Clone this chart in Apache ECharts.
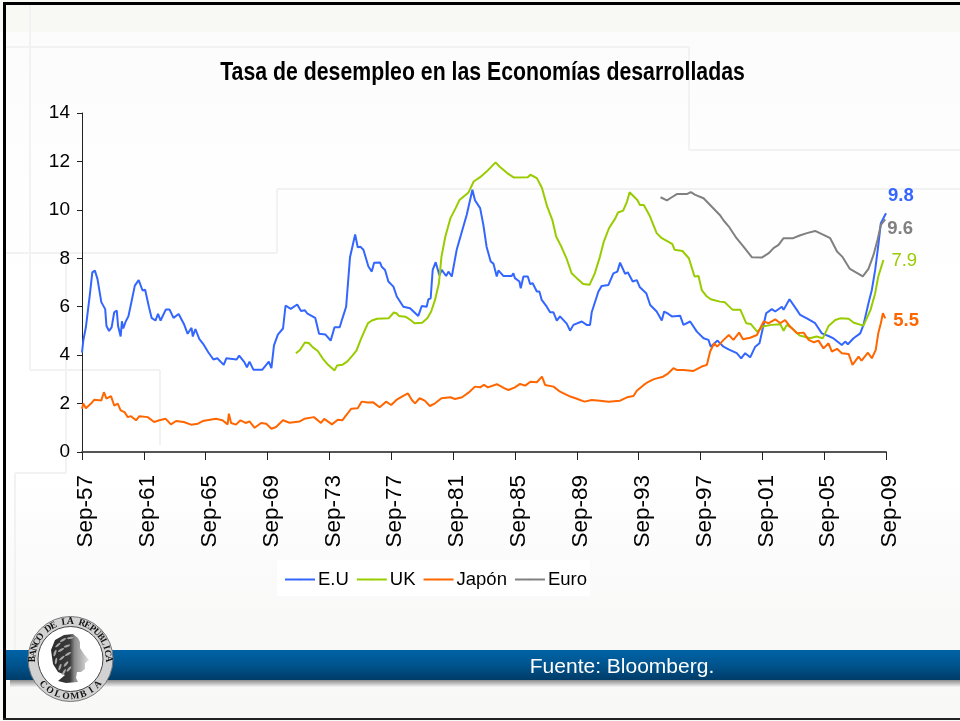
<!DOCTYPE html>
<html><head><meta charset="utf-8">
<style>html,body{margin:0;padding:0;background:#fff}#c{width:960px;height:721px}</style>
<script src="https://cdn.jsdelivr.net/npm/echarts@6/dist/echarts.min.js"></script>
</head><body><div id="c"></div>
<script>
// x = months since Sep-57
const tickLabels = ['Sep-57','Sep-61','Sep-65','Sep-69','Sep-73','Sep-77','Sep-81','Sep-85','Sep-89','Sep-93','Sep-97','Sep-01','Sep-05','Sep-09'];
const title = 'Tasa de desempleo en las Economías desarrolladas';
const source = 'Fuente: Bloomberg.';
const seriesNames = ['E.U','UK','Japón','Euro'];
const lastLabels = ['9.8','7.9','5.5','9.6'];
const usData = [[0,4.1],[1,4.6],[3,5.15],[6,6.46],[8,7.42],[10,7.49],[12,7.15],[15,6.19],[18,5.9],[19,5.2],[21,5.0],[23,5.15],[25,5.77],[27,5.84],[28,5.2],[30,4.77],[31,5.4],[32,5.1],[34,5.4],[36,5.6],[38,6.1],[41,6.87],[44,7.1],[47,6.67],[49,6.7],[52,5.98],[54,5.54],[57,5.43],[59,5.7],[61,5.43],[65,5.88],[68,5.88],[71,5.54],[75,5.7],[79,5.3],[82,4.88],[85,5.13],[86,4.77],[88,5.08],[91,4.67],[94,4.47],[98,4.12],[102,3.82],[105,3.87],[110,3.6],[112,3.87],[120,3.82],[122,3.98],[126,3.71],[128,3.5],[130,3.73],[133,3.4],[140,3.4],[145,3.73],[147,3.46],[149,4.4],[152,4.85],[156,5.1],[158,6.05],[162,5.91],[167,6.09],[170,5.82],[173,5.85],[175,5.71],[181,5.54],[184,4.88],[189,4.85],[193,4.6],[196,5.15],[200,5.15],[202,5.5],[205,6.0],[208,8.04],[212,8.98],[214,8.45],[216,8.48],[218.4,8.35],[222.3,7.66],[224.9,7.45],[226.7,7.82],[231.3,7.83],[232.6,7.65],[235.2,7.52],[237.8,7.04],[241.7,6.83],[244.3,6.42],[249.4,6.0],[254.6,5.94],[261,5.62],[263.7,6.03],[267.5,6.0],[268.8,6.3],[270.6,6.35],[272.2,7.52],[274.5,7.84],[277.4,7.3],[279.2,7.52],[282.6,7.27],[284.4,7.45],[287,7.25],[290.8,8.35],[298.6,9.8],[303,10.83],[305,10.4],[309,10.07],[311.5,9.38],[314,8.48],[317.2,7.87],[319.3,7.78],[321.9,7.25],[323.2,7.5],[327,7.27],[333.5,7.27],[334.8,7.38],[336,7.18],[339.5,7.04],[340.5,6.76],[342.6,7.25],[346,7.25],[347.8,6.94],[349.8,6.97],[353,6.63],[355,6.63],[356.8,6.28],[360.7,6.0],[363.3,5.77],[365.9,5.77],[368.5,5.43],[371,5.6],[376.2,5.3],[378.8,5.01],[381.4,5.25],[387.9,5.39],[391.7,5.25],[394.3,5.25],[395.6,5.77],[400.8,6.63],[403.4,6.86],[408.6,6.9],[412.4,7.38],[415.5,7.45],[417.6,7.82],[421.5,7.36],[423.6,7.42],[427.4,7.04],[430.6,7.1],[433,6.8],[437.9,6.56],[441,6.07],[446,5.8],[450,5.43],[451.8,5.8],[455.2,5.7],[457.8,5.6],[464.2,5.63],[466.8,5.25],[472,5.39],[477.2,4.97],[482.4,4.7],[486.2,4.63],[488,4.35],[493.2,4.6],[497.9,4.35],[501.8,4.24],[508.2,4.08],[511.6,3.87],[514.7,4.08],[518.6,3.91],[522.5,4.35],[525.8,4.49],[531,5.73],[535.4,5.9],[538,5.8],[543.2,6.0],[544.5,5.87],[549.1,6.31],[554.8,5.87],[557.4,5.66],[562.6,5.52],[569,5.32],[574.2,4.9],[579.4,4.79],[583.3,4.69],[589.7,4.42],[592.3,4.56],[594.4,4.45],[598.8,4.7],[604,4.9],[606.5,5.25],[610.4,6.14],[613,6.69],[615.6,7.52],[618.2,8.62],[620,9.45],[624,9.86]];
const ukData = [[166,4.08],[169,4.2],[173,4.52],[176,4.5],[179,4.33],[183,4.17],[187,3.85],[191,3.6],[196,3.37],[198,3.57],[202,3.6],[206,3.74],[210,3.99],[213,4.19],[216,4.6],[219,4.97],[222,5.32],[225,5.43],[229,5.5],[238,5.52],[242,5.76],[244,5.73],[246,5.62],[251,5.59],[255,5.45],[258,5.32],[264,5.34],[268,5.52],[271,5.8],[274,6.28],[277,6.97],[279,8.07],[282,8.9],[286,9.66],[290,10.07],[293,10.41],[300,10.72],[304,11.17],[309,11.35],[314,11.58],[321,11.96],[324,11.79],[330,11.52],[335,11.34],[346,11.35],[348,11.45],[353,11.31],[357,10.9],[361,10.14],[365,9.59],[368,8.9],[372,8.48],[376,8.0],[380,7.38],[384,7.18],[389,6.94],[394,6.91],[398,7.38],[402,8.07],[405,8.69],[409,9.24],[414,9.66],[416,9.89],[420,9.97],[423,10.34],[425,10.73],[431,10.41],[433,10.2],[436,10.2],[440.5,9.77],[446,9.04],[450,8.83],[458,8.6],[460,8.35],[466,8.3],[471,8.0],[475.4,7.25],[478.5,7.27],[481,6.69],[485,6.42],[488,6.31],[495,6.21],[499,6.18],[505,5.87],[511,5.87],[515.5,5.32],[519,5.29],[524,4.97],[528.4,5.18],[535,5.25],[542,5.28],[544.5,5.01],[547,5.25],[551,5.11],[557,4.81],[565,4.7],[570,4.77],[575,4.7],[579.4,5.2],[584.6,5.45],[588.4,5.52],[595,5.5],[599,5.34],[606.5,5.22],[612,5.87],[615.6,6.56],[618,7.25],[622,7.93]];
const jpData = [[0,1.79],[1,2.0],[3,1.81],[7,2.0],[9.6,2.16],[15,2.13],[17,2.47],[19,2.2],[22.5,2.31],[25,1.92],[27.7,2.0],[30,1.72],[33,1.65],[35.5,1.44],[38,1.48],[42,1.31],[44.5,1.48],[51,1.44],[56,1.24],[60,1.31],[65,1.37],[69,1.14],[73,1.28],[79,1.24],[84.6,1.13],[90,1.17],[93.7,1.28],[104,1.37],[109,1.31],[113,1.14],[114,1.58],[115.7,1.2],[119.5,1.13],[123,1.31],[127,1.2],[130,1.26],[134,1.0],[139,1.2],[143,1.17],[147,0.96],[150.6,1.03],[156,1.31],[161,1.21],[169,1.26],[172.6,1.37],[180,1.44],[185.5,1.2],[188,1.37],[194,1.14],[198.5,1.33],[202,1.31],[206,1.58],[209,1.79],[214,1.81],[217,2.08],[222,2.04],[226,2.05],[231,1.85],[236,2.08],[240,1.94],[244,2.15],[249,2.31],[253,2.42],[256,2.15],[258.5,2.01],[262,2.22],[266,2.12],[270,1.9],[274,2.01],[279,2.22],[286,2.26],[289.5,2.19],[295,2.26],[300,2.45],[305,2.7],[309,2.67],[312,2.77],[315,2.67],[322,2.8],[328,2.63],[331,2.56],[336,2.67],[340,2.81],[344,2.74],[348,2.9],[353,2.88],[357,3.11],[359.4,2.77],[366,2.7],[371,2.49],[379,2.29],[383,2.22],[390,2.08],[395.6,2.15],[402,2.12],[408.6,2.08],[417.6,2.12],[423,2.26],[428,2.31],[430.6,2.53],[436,2.77],[439.6,2.9],[443.5,3.0],[446,3.04],[451,3.11],[455,3.25],[459,3.46],[461.7,3.39],[467,3.39],[474.6,3.35],[481,3.53],[485,3.6],[487.5,4.15],[490.6,4.49],[493,4.35],[498,4.63],[502,4.83],[505.6,4.63],[510,4.93],[513,4.66],[518.6,4.72],[523.8,4.83],[529,5.39],[533,5.32],[538,5.48],[542,5.32],[545.7,5.45],[549.6,5.18],[555,4.9],[560,4.93],[564,4.63],[568,4.53],[571.6,4.6],[575.5,4.28],[579.4,4.49],[582,4.15],[586,4.26],[589.7,4.08],[595,4.05],[598,3.6],[602.7,3.94],[605,3.77],[610,4.1],[613,3.87],[616,4.21],[618,4.9],[620,5.32],[621.6,5.73],[623.4,5.52]];
const euroData = [[449,10.52],[454,10.39],[456.5,10.48],[461.7,10.65],[469.4,10.65],[472.5,10.73],[476,10.62],[482.4,10.48],[487.5,10.2],[495,9.79],[498,9.56],[502,9.31],[508,8.83],[513.4,8.48],[520,8.04],[527.6,8.03],[533,8.21],[536.7,8.42],[540.6,8.55],[544.5,8.83],[552,8.83],[557,8.94],[562.6,9.04],[569,9.13],[575.5,8.97],[580.7,8.83],[586,8.28],[590,8.07],[596,7.56],[601,7.41],[606,7.25],[610.4,7.56],[614.3,8.14],[617.4,8.76],[620,9.38],[623.4,9.61]];
const yTicks = [0,14,2];

const colors = ['#3366ff','#99cc00','#ff6600','#808080'];
const sans = '"Liberation Sans",Arial,sans-serif';

const ln = (x1,y1,x2,y2)=>({type:'line',silent:true,z:-10,shape:{x1,y1,x2,y2},style:{stroke:'#f2f2f2',lineWidth:2}});
const grad = (stops)=>({type:'linear',x:0,y:0,x2:0,y2:1,colorStops:stops});
const bg = [
 {type:'rect',z:-20,silent:true,shape:{x:0,y:0,width:960,height:721},style:{fill:grad([{offset:0,color:'#fbfbfb'},{offset:.26,color:'#fefefe'},{offset:.45,color:'#ffffff'},{offset:.66,color:'#ffffff'},{offset:.8,color:'#fafafa'},{offset:1,color:'#f8f8f6'}])}},
 {type:'rect',z:-19,silent:true,shape:{x:0,y:0,width:960,height:32},style:{fill:'#f8f8f4'}},
 ln(5,47,689,47),ln(689,47,689,150),ln(689,150,960,150),
 ln(30,5,30,370),ln(30,370,160,370),ln(160,370,160,445),
 ln(5,253,277,253),ln(277,253,277,189),ln(277,189,960,189),
 ln(66,250,66,473),ln(15,473,66,473),ln(15,473,15,650),
 {type:'rect',z:-5,silent:true,shape:{x:277,y:560,width:313,height:36},style:{fill:'#ffffff'}},
 // footer band
 {type:'rect',z:1,silent:true,shape:{x:10,y:680,width:950,height:7},style:{fill:grad([{offset:0,color:'#8c8c8c'},{offset:1,color:'#f4f4f4'}])}},
 {type:'rect',z:2,silent:true,shape:{x:5,y:650,width:955,height:30},style:{fill:grad([{offset:0,color:'#0063a6'},{offset:.5,color:'#00548e'},{offset:1,color:'#003c68'}])}},
 {type:'text',z:3,silent:true,style:{x:622,y:667,text:source,fill:'#fff',font:'21px '+sans,textAlign:'center',textVerticalAlign:'middle'}},
 // chart title, condensed like the reference
 {type:'text',z:4,silent:true,x:482.5,y:73,scaleX:.851,style:{text:title,fill:'#000',font:'bold 25px '+sans,textAlign:'center',textVerticalAlign:'middle'}},
 // page frame
 {type:'rect',z:30,silent:true,shape:{x:3,y:2,width:3,height:717},style:{fill:'#000'}},
 {type:'rect',z:30,silent:true,shape:{x:3,y:2,width:957,height:3},style:{fill:'#000'}},
 {type:'rect',z:30,silent:true,shape:{x:3,y:718,width:957,height:2},style:{fill:'#222'}},
];
// seal
const sx=70.5, sy=659;
const leaves = [[58,645,-40],[63,640,-30],[70,638,-10],[55,653,-70],[61,650,-30],[67,646,-20],[56,661,-80],[62,658,-40],[68,654,-30],[60,667,-70],[66,664,-50],[64,672,-60],[69,669,-50]];
const seal = [
 {type:'circle',z:10,silent:true,shape:{cx:sx,cy:sy,r:42.5},style:{fill:'#d2d2d2',stroke:'#777',lineWidth:1}},
 {type:'circle',z:11,silent:true,shape:{cx:sx,cy:sy,r:32.5},style:{fill:'#fff',stroke:'#444',lineWidth:1}},
 {type:'polygon',z:12,silent:true,shape:{points:[[51,650],[55,640],[64,635],[73,634],[78,638],[80,642],[80,648],[84,654],[89,660],[85,663],[85,669],[81,672],[77,672],[76,678],[78,682],[66,683],[58,681],[65,675],[58,672],[53,664]]},style:{fill:{type:'linear',x:0,y:0,x2:1,y2:0,colorStops:[{offset:0,color:'#2a2a2a'},{offset:.5,color:'#3a3a3a'},{offset:.62,color:'#8a8a8a'},{offset:1,color:'#e2e2e2'}]}}}
].concat(leaves.map(p=>({type:'ellipse',z:13,silent:true,shape:{cx:0,cy:0,rx:3.4,ry:1.1},x:p[0],y:p[1],rotation:-p[2]*Math.PI/180,style:{fill:'#a8a8a8'}})));
function arcText(txt,startDeg,stepDeg,r,inward){
  return txt.split('').map((ch,i)=>{
    const a=(startDeg+i*stepDeg)*Math.PI/180;
    return {type:'text',z:12,silent:true,x:sx+r*Math.cos(a),y:sy+r*Math.sin(a),rotation:inward?-(a-Math.PI/2):-(a+Math.PI/2),
      style:{text:ch,fill:'#111',font:'bold 9.5px "Liberation Serif",serif',textAlign:'center',textVerticalAlign:'middle'}};
  });
}
const sealText = arcText('BANCO DE LA REPUBLICA',-180,9,37.5,false).concat(arcText('COLOMBIA',137,-13.4,37.5,true));

const datasets = [usData,ukData,jpData,euroData];
const labelOffsets = [[2,-17],[8,1],[8,3],[2,10]];
const option = {
  animation:false,
  backgroundColor:'transparent',
  grid:{left:82,right:74,top:113,bottom:269,containLabel:false},
  legend:{left:278,top:566,itemWidth:30,itemHeight:2,itemGap:7,data:seriesNames,padding:[4,6],
    textStyle:{fontFamily:sans,fontSize:18.5,color:'#000',padding:[0,0,0,-2]}},
  xAxis:{type:'value',min:0,max:624,interval:48,splitLine:{show:false},
    axisLine:{lineStyle:{color:'#555',width:2}},axisTick:{length:8,lineStyle:{color:'#222',width:1}},
    axisLabel:{rotate:90,margin:23,verticalAlign:'top',lineHeight:8,fontFamily:sans,fontSize:22.5,color:'#000',formatter:v=>tickLabels[v/48]||''}},
  yAxis:{type:'value',min:yTicks[0],max:yTicks[1],interval:yTicks[2],splitLine:{show:false},
    axisLine:{show:true,lineStyle:{color:'#222',width:1}},axisTick:{show:true,length:5,lineStyle:{color:'#222',width:1}},
    axisLabel:{margin:12,fontFamily:sans,fontSize:19,color:'#000'}},
  series:seriesNames.map((n,i)=>({
    name:n,type:'line',data:datasets[i],symbol:'none',smooth:false,z:5+(i==3?0:i),
    lineStyle:{color:colors[i],width:2},itemStyle:{color:colors[i]},
    endLabel:{show:true,formatter:()=>lastLabels[i],offset:labelOffsets[i],color:colors[i],
      fontFamily:sans,fontSize:18.5,fontWeight:i==1?'normal':'bold',distance:0}
  })),
  graphic:{elements:bg.concat(seal,sealText)}
};
echarts.init(document.getElementById('c')).setOption(option);
</script></body></html>
